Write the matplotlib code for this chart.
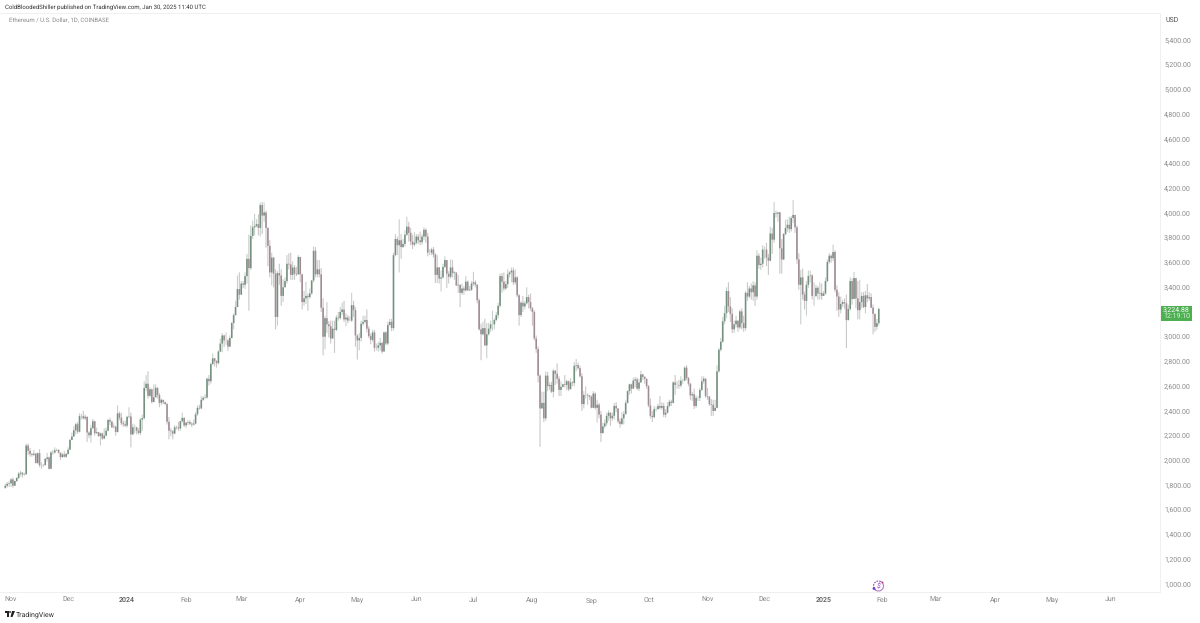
#!/usr/bin/env python3
import matplotlib

matplotlib.use('Agg')
import matplotlib.dates as mdates
import matplotlib.pyplot as plt
import numpy as np
import pandas as pd
from matplotlib.patches import Arc, Circle, Polygon, Rectangle

plt.rcParams['font.family'] = ['Roboto', 'DejaVu Sans']
plt.rcParams['text.hinting'] = 'no_hinting'
plt.rcParams['text.hinting_factor'] = 1

first_open = 1778

# daily closes, one line per month (Oct 29 2023 .. Jan 30 2025)
closes = [
    1795, 1810, 1815,
    1846, 1795, 1833, 1857, 1893, 1900, 1885, 1887, 2120, 2077, 2052, 2045, 2054, 1979, 2058, 1961, 1962, 1963, 2012, 2024, 1932, 2064, 2063, 2081, 2084, 2063, 2027, 2048, 2029, 2052,
    2087, 2165, 2193, 2243, 2292, 2232, 2358, 2358, 2340, 2352, 2225, 2203, 2260, 2316, 2220, 2228, 2197, 2218, 2177, 2200, 2240, 2326, 2313, 2268, 2272, 2230, 2380, 2345, 2300, 2292, 2281,
    2352, 2355, 2210, 2268, 2268, 2240, 2222, 2330, 2342, 2585, 2620, 2522, 2575, 2472, 2510, 2587, 2528, 2465, 2490, 2470, 2455, 2312, 2240, 2235, 2217, 2268, 2267, 2258, 2317, 2343, 2283,
    2305, 2310, 2296, 2290, 2298, 2373, 2425, 2420, 2490, 2505, 2508, 2660, 2640, 2780, 2825, 2803, 2786, 2880, 2945, 3010, 2970, 2970, 2920, 2990, 3110, 3175, 3240, 3385, 3340,
    3430, 3420, 3490, 3630, 3555, 3815, 3885, 3895, 3910, 3880, 4065, 3980, 4005, 3880, 3735, 3520, 3640, 3510, 3160, 3515, 3495, 3330, 3400, 3450, 3590, 3585, 3500, 3560, 3510, 3505, 3645,
    3505, 3280, 3310, 3330, 3320, 3350, 3455, 3695, 3505, 3545, 3505, 3235, 3000, 3150, 3100, 3085, 2985, 3065, 3055, 3155, 3150, 3200, 3220, 3140, 3155, 3130, 3130, 3255, 3215, 3010,
    2970, 2990, 3105, 3120, 3135, 3065, 3005, 2975, 3035, 2910, 2910, 2930, 2950, 2880, 3035, 2945, 3095, 3120, 3070, 3660, 3790, 3740, 3780, 3725, 3750, 3825, 3890, 3840, 3770, 3745, 3760,
    3810, 3780, 3765, 3810, 3865, 3810, 3680, 3680, 3705, 3665, 3500, 3560, 3470, 3480, 3565, 3620, 3510, 3485, 3560, 3515, 3520, 3415, 3420, 3355, 3390, 3375, 3445, 3375, 3380, 3430,
    3440, 3420, 3295, 3060, 3020, 3070, 2930, 3020, 3065, 3100, 3100, 3135, 3175, 3250, 3490, 3445, 3390, 3425, 3505, 3520, 3535, 3440, 3480, 3335, 3175, 3275, 3245, 3270, 3320, 3280, 3230,
    3200, 2985, 2900, 2685, 2420, 2465, 2340, 2685, 2600, 2610, 2555, 2725, 2700, 2660, 2570, 2595, 2615, 2610, 2640, 2575, 2630, 2625, 2765, 2770, 2745, 2680, 2455, 2530, 2530, 2525, 2515,
    2425, 2540, 2425, 2450, 2370, 2220, 2275, 2300, 2360, 2385, 2340, 2360, 2440, 2420, 2315, 2295, 2340, 2375, 2465, 2560, 2615, 2580, 2645, 2655, 2580, 2630, 2695, 2675, 2660, 2600,
    2445, 2360, 2350, 2415, 2415, 2440, 2425, 2440, 2370, 2385, 2440, 2475, 2465, 2630, 2610, 2610, 2605, 2645, 2645, 2750, 2665, 2620, 2525, 2535, 2440, 2505, 2505, 2570, 2640, 2660, 2520,
    2515, 2455, 2450, 2400, 2425, 2720, 2895, 2960, 3125, 3190, 3370, 3245, 3185, 3060, 3100, 3130, 3075, 3205, 3110, 3070, 3355, 3325, 3390, 3360, 3415, 3325, 3655, 3580, 3590, 3705,
    3705, 3640, 3615, 3835, 3785, 4000, 3995, 4005, 3715, 3625, 3830, 3880, 3905, 3870, 3960, 3985, 3885, 3625, 3420, 3480, 3340, 3290, 3420, 3490, 3495, 3330, 3330, 3395, 3350, 3355, 3330,
    3350, 3450, 3605, 3655, 3635, 3685, 3380, 3325, 3220, 3265, 3280, 3270, 3135, 3225, 3450, 3305, 3475, 3310, 3215, 3280, 3330, 3240, 3335, 3310, 3320, 3235, 3185, 3080, 3110, 3224.88,
]
highs = [
    1812, 1825, 1830,
    1855, 1860, 1835, 1865, 1905, 1915, 1905, 1900, 2135, 2135, 2100, 2060, 2085, 2060, 2065, 2090, 1985, 1970, 2020, 2060, 2030, 2075, 2085, 2105, 2095, 2090, 2060, 2060, 2075, 2060,
    2105, 2175, 2225, 2275, 2305, 2310, 2380, 2375, 2400, 2370, 2355, 2235, 2285, 2335, 2320, 2265, 2230, 2225, 2225, 2260, 2265, 2335, 2345, 2320, 2300, 2280, 2445, 2395, 2385, 2320, 2320,
    2360, 2430, 2385, 2295, 2290, 2270, 2260, 2345, 2370, 2640, 2690, 2720, 2590, 2580, 2615, 2615, 2590, 2545, 2500, 2480, 2475, 2465, 2350, 2260, 2245, 2285, 2280, 2310, 2320, 2385, 2350,
    2310, 2325, 2325, 2310, 2330, 2390, 2445, 2450, 2520, 2520, 2535, 2670, 2690, 2790, 2865, 2830, 2810, 2890, 2985, 3030, 3015, 3035, 2985, 3010, 3120, 3190, 3290, 3495, 3520,
    3450, 3450, 3520, 3670, 3825, 3900, 3940, 3995, 3950, 3990, 4085, 4090, 4085, 4020, 3885, 3780, 3680, 3645, 3545, 3530, 3590, 3545, 3465, 3480, 3660, 3675, 3680, 3610, 3580, 3565, 3660,
    3645, 3510, 3370, 3445, 3350, 3390, 3460, 3730, 3725, 3620, 3620, 3555, 3310, 3170, 3280, 3125, 3130, 3130, 3130, 3175, 3200, 3240, 3275, 3290, 3190, 3175, 3165, 3355, 3290, 3240,
    3020, 3030, 3130, 3170, 3170, 3220, 3085, 3025, 3055, 3055, 2945, 2960, 2990, 2960, 3040, 3045, 3120, 3145, 3145, 3680, 3830, 3810, 3950, 3830, 3790, 3860, 3970, 3930, 3880, 3825, 3845,
    3830, 3830, 3850, 3830, 3885, 3875, 3840, 3710, 3720, 3725, 3675, 3660, 3565, 3535, 3590, 3650, 3620, 3530, 3625, 3620, 3530, 3435, 3500, 3420, 3430, 3410, 3490, 3455, 3410, 3450,
    3525, 3455, 3425, 3310, 3105, 3120, 3145, 3110, 3110, 3130, 3210, 3150, 3200, 3275, 3510, 3515, 3520, 3450, 3545, 3530, 3560, 3560, 3545, 3490, 3345, 3290, 3330, 3290, 3400, 3340, 3350,
    3240, 3215, 3010, 2920, 2695, 2555, 2555, 2720, 2715, 2630, 2635, 2740, 2730, 2785, 2680, 2640, 2620, 2690, 2650, 2645, 2665, 2640, 2795, 2820, 2790, 2765, 2705, 2560, 2600, 2540, 2530,
    2525, 2560, 2550, 2490, 2465, 2400, 2305, 2330, 2385, 2405, 2390, 2385, 2465, 2470, 2420, 2340, 2390, 2400, 2485, 2565, 2620, 2620, 2670, 2675, 2670, 2660, 2725, 2700, 2680, 2660,
    2610, 2500, 2400, 2440, 2430, 2460, 2520, 2470, 2465, 2415, 2470, 2490, 2490, 2640, 2690, 2640, 2650, 2680, 2660, 2760, 2770, 2675, 2625, 2555, 2580, 2525, 2520, 2585, 2680, 2680, 2665,
    2585, 2520, 2495, 2490, 2490, 2770, 2910, 2990, 3160, 3250, 3400, 3440, 3320, 3230, 3130, 3170, 3130, 3220, 3230, 3170, 3370, 3440, 3410, 3430, 3450, 3440, 3700, 3675, 3640, 3740,
    3730, 3760, 3670, 3890, 3880, 4090, 4020, 4010, 4010, 3790, 3840, 3945, 3950, 3970, 3975, 4105, 3960, 3900, 3675, 3540, 3550, 3365, 3450, 3535, 3535, 3505, 3440, 3420, 3410, 3440, 3430,
    3370, 3480, 3625, 3675, 3665, 3745, 3700, 3415, 3360, 3325, 3300, 3310, 3340, 3260, 3480, 3470, 3525, 3455, 3450, 3460, 3360, 3360, 3370, 3425, 3360, 3350, 3260, 3185, 3145, 3235,
]
lows = [
    1770, 1780, 1785,
    1785, 1780, 1795, 1825, 1850, 1870, 1860, 1875, 1885, 2045, 2030, 2030, 2035, 1975, 1970, 1945, 1930, 1945, 1955, 1990, 1925, 1930, 2045, 2055, 2075, 2055, 2005, 2020, 2025, 2020,
    2045, 2085, 2165, 2190, 2210, 2215, 2225, 2330, 2330, 2325, 2150, 2180, 2145, 2255, 2200, 2215, 2190, 2120, 2165, 2170, 2195, 2235, 2285, 2260, 2260, 2200, 2225, 2325, 2285, 2270, 2270,
    2265, 2340, 2105, 2205, 2220, 2210, 2210, 2205, 2240, 2330, 2560, 2500, 2510, 2460, 2470, 2510, 2500, 2430, 2445, 2455, 2450, 2290, 2170, 2195, 2170, 2210, 2250, 2240, 2240, 2305, 2270,
    2260, 2285, 2285, 2270, 2280, 2290, 2360, 2410, 2415, 2480, 2495, 2500, 2605, 2620, 2770, 2760, 2750, 2775, 2875, 2875, 2915, 2935, 2885, 2915, 2985, 3060, 3170, 3245, 3300,
    3340, 3395, 3385, 3430, 3210, 3540, 3790, 3820, 3885, 3820, 3810, 3830, 3930, 3720, 3570, 3480, 3415, 3400, 3060, 3090, 3420, 3250, 3280, 3400, 3430, 3545, 3460, 3460, 3460, 3490, 3500,
    3440, 3220, 3250, 3265, 3210, 3310, 3340, 3440, 3480, 3480, 3480, 3200, 2850, 2900, 3030, 2995, 2945, 2990, 2870, 3045, 3130, 3140, 3175, 3120, 3085, 3110, 3125, 3120, 3160, 2920,
    2815, 2890, 2960, 3090, 3105, 3035, 2990, 2940, 2960, 2880, 2890, 2880, 2890, 2865, 2880, 2930, 2930, 3090, 3045, 3050, 3650, 3660, 3520, 3630, 3720, 3730, 3815, 3770, 3740, 3710, 3730,
    3745, 3750, 3740, 3745, 3780, 3760, 3650, 3660, 3660, 3640, 3435, 3435, 3430, 3365, 3470, 3555, 3395, 3430, 3470, 3480, 3460, 3410, 3355, 3240, 3340, 3340, 3365, 3370, 3370, 3370,
    3410, 3400, 3270, 3050, 2810, 3010, 2925, 2825, 3010, 3040, 3050, 3060, 3125, 3150, 3235, 3355, 3370, 3380, 3395, 3480, 3440, 3420, 3420, 3320, 3090, 3160, 3200, 3220, 3260, 3230, 3210,
    3090, 2970, 2870, 2630, 2110, 2420, 2310, 2320, 2560, 2570, 2545, 2510, 2610, 2620, 2520, 2520, 2590, 2590, 2565, 2560, 2575, 2600, 2600, 2720, 2735, 2670, 2400, 2420, 2500, 2450, 2490,
    2420, 2425, 2410, 2305, 2340, 2150, 2220, 2260, 2280, 2320, 2280, 2320, 2330, 2390, 2300, 2265, 2285, 2290, 2370, 2460, 2530, 2540, 2580, 2590, 2570, 2560, 2630, 2650, 2620, 2580,
    2430, 2340, 2310, 2340, 2395, 2410, 2410, 2410, 2350, 2345, 2380, 2430, 2440, 2460, 2530, 2580, 2580, 2590, 2620, 2640, 2650, 2600, 2490, 2480, 2415, 2425, 2480, 2480, 2560, 2620, 2505,
    2490, 2440, 2360, 2360, 2400, 2420, 2710, 2880, 2950, 3100, 3150, 3200, 3120, 3030, 3030, 3075, 3040, 3060, 3060, 3040, 3050, 3290, 3310, 3300, 3290, 3250, 3300, 3550, 3540, 3560,
    3630, 3570, 3500, 3610, 3670, 3760, 3965, 3930, 3510, 3510, 3620, 3820, 3850, 3840, 3850, 3920, 3840, 3590, 3380, 3100, 3300, 3220, 3170, 3395, 3440, 3300, 3250, 3320, 3300, 3300, 3300,
    3330, 3340, 3440, 3590, 3600, 3610, 3360, 3210, 3160, 3190, 3240, 3225, 2910, 3130, 3210, 3260, 3305, 3230, 3140, 3140, 3230, 3230, 3190, 3280, 3290, 3230, 3020, 3040, 3055, 3090,
]

# 3,200.00 is covered by the price badge in the reference, so it gets no label
price_ticks = [1000, 1200, 1400, 1600, 1800, 2000, 2200, 2400, 2600, 2800, 3000, 3400, 3600, 3800,
               4000, 4200, 4400, 4600, 4800, 5000, 5200, 5400]
month_dates = ['2023-11-01', '2023-12-01', '2024-01-01', '2024-02-01', '2024-03-01', '2024-04-01', '2024-05-01',
               '2024-06-01', '2024-07-01', '2024-08-01', '2024-09-01', '2024-10-01', '2024-11-01', '2024-12-01',
               '2025-01-01', '2025-02-01', '2025-03-01', '2025-04-01', '2025-05-01', '2025-06-01']
month_labels = ['Nov', 'Dec', '2024', 'Feb', 'Mar', 'Apr', 'May', 'Jun', 'Jul', 'Aug', 'Sep', 'Oct', 'Nov', 'Dec',
                '2025', 'Feb', 'Mar', 'Apr', 'May', 'Jun']

UP_BODY = '#74907f'
DOWN_BODY = '#a08c95'
UP_WICK = '#c8d0cc'
DOWN_WICK = '#cbc6c8'
GREY_TEXT = '#8a8a8a'
LINE = '#f0f0f0'

closes = np.array(closes, dtype=float)
highs = np.array(highs, dtype=float)
lows = np.array(lows, dtype=float)
opens = np.concatenate([[first_open], closes[:-1]])
dates = mdates.date2num(pd.date_range('2023-10-29', periods=len(closes)))
up = closes >= opens

fig = plt.figure(figsize=(12, 6.23), dpi=100)
fig.patch.set_facecolor('white')

# chart pane spans x 0..1160 px, y 13..592 px
ax = fig.add_axes([0, (623 - 592) / 623, 1160 / 1200, (592 - 13) / 623])
nov_1 = mdates.date2num(pd.Timestamp('2023-11-01'))
ax.set_xlim(nov_1 - 11 / 1.903, nov_1 + (1160 - 11) / 1.903)
ax.set_ylim(1000 - 8 / 0.12364, 1000 + (584 - 13) / 0.12364)

# snap off so the thin candles blur across pixels like the reference
for mask, wick, body in ((up, UP_WICK, UP_BODY), (~up, DOWN_WICK, DOWN_BODY)):
    ax.vlines(dates[mask], lows[mask], highs[mask], color=wick, lw=0.8, zorder=2).set_snap(False)
    ax.vlines(dates[mask], opens[mask], closes[mask], color=body, lw=1.15, zorder=3).set_snap(False)

ax.yaxis.tick_right()
ax.set_yticks(price_ticks)
ax.set_yticklabels([f'{p:,.2f}' for p in price_ticks], fontsize=5.2, color=GREY_TEXT)
ax.set_xticks(mdates.date2num(pd.to_datetime(month_dates)))
ax.set_xticklabels(month_labels, fontsize=5.2, color=GREY_TEXT)
for label in ax.get_xticklabels():
    if label.get_text() in ('2024', '2025'):
        label.set_color('#555555')
        label.set_fontweight('medium')
ax.tick_params(axis='both', length=0)
ax.tick_params(axis='y', pad=3)
ax.tick_params(axis='x', pad=3.5)
ax.spines['left'].set_visible(False)
for side in ('top', 'right', 'bottom'):
    ax.spines[side].set_color(LINE)
    ax.spines[side].set_linewidth(0.7)

# overlay in pixel coordinates for header, badge, logos
over = fig.add_axes([0, 0, 1, 1])
over.set_xlim(0, 1200)
over.set_ylim(623, 0)
over.axis('off')
over.patch.set_alpha(0)

over.text(5, 7, 'ColdBloodedShiller published on TradingView.com, Jan 30, 2025 11:40 UTC',
          fontsize=4.6, color='#333333', va='center')
over.text(9, 20.5, 'Ethereum / U.S. Dollar, 1D, COINBASE', fontsize=4.45, color=GREY_TEXT, va='center')
over.text(1166, 20.5, 'USD', fontsize=5.0, color='#555555', va='center')

over.add_patch(Rectangle((1161, 306), 31, 15, fc='#4caf50', ec='none', zorder=5))
over.text(1190, 310, '3,224.88', fontsize=5.0, color='white', ha='right', va='center', zorder=6)
over.text(1190, 316.5, '12:19:10', fontsize=5.0, color='#d8f0d9', ha='right', va='center', zorder=6)

over.text(16, 614.5, 'TradingView', fontsize=4.9, color='#333333', va='center')
over.add_patch(Polygon([(5, 611), (9, 611), (9, 617), (7, 617), (7, 613), (5, 613)], fc='#222222', ec='none'))
over.add_patch(Circle((10, 612), 0.9, fc='#222222', ec='none'))
over.add_patch(Polygon([(12, 611), (15, 611), (12.5, 617), (10.5, 617)], fc='#222222', ec='none'))

# earnings-style marker at the end of the series
over.add_patch(Arc((878.5, 586), 10, 10, theta1=-60, theta2=120, ec='#b07cc6', lw=0.8))
over.add_patch(Arc((878.5, 586), 10, 10, theta1=120, theta2=300, ec='#8e44c9', lw=0.8, ls=(0, (1.5, 1))))
over.add_patch(Circle((874, 588.5), 1.4, fc='#6a3fd0', ec='none'))
over.add_patch(Circle((882.5, 582.5), 1.0, fc='#c2566e', ec='none'))
over.text(878.5, 586, '$', fontsize=5, color='#9b3fc4', ha='center', va='center', style='italic')

fig.savefig('out.png', dpi=100)
plt.close(fig)
